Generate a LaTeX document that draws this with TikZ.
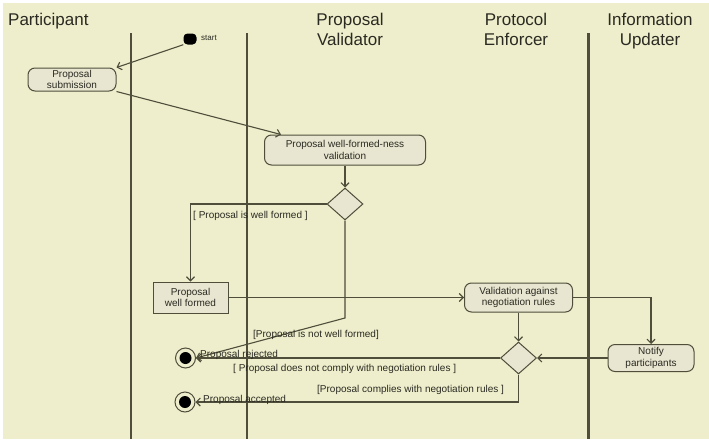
\documentclass[tikz,border=0pt]{standalone}
\usepackage{fontspec}
\setmainfont{Liberation Sans}
\usetikzlibrary{arrows.meta,shapes.geometric,calc}
\definecolor{bgc}{HTML}{EEEECC}
\definecolor{ln}{HTML}{4E4E3B}
\definecolor{nf}{HTML}{E8E6D0}
\definecolor{tx}{HTML}{2A2A22}
\begin{document}
\begin{tikzpicture}[x=1pt,y=-1pt,
  lane/.style={draw=ln,line width=1.2pt},
  hdr/.style={font=\fontsize{17}{20}\selectfont,text=tx,inner sep=0pt,anchor=base},
  small/.style={font=\fontsize{10}{11.5}\selectfont,text=tx,inner sep=0pt},
  act/.style={draw=ln,fill=nf,line width=1pt,rounded corners=7pt,align=center,
              inner sep=0pt,font=\fontsize{10}{11.5}\selectfont,text=tx},
  actbox/.style={draw=ln,fill=nf,line width=1pt,align=center,
              inner sep=0pt,font=\fontsize{10}{11.5}\selectfont,text=tx},
  dec/.style={diamond,draw=ln,fill=nf,line width=1pt,inner sep=0pt,
              minimum width=36pt,minimum height=32pt},
  endn/.style={circle,draw=ln,fill=bgc,line width=1pt,minimum size=20pt,inner sep=0pt},
  endi/.style={circle,fill=black,minimum size=12pt,inner sep=0pt},
  arr/.style={draw=ln,line width=1.1pt,-{Straight Barb[length=4pt,width=8pt]}}
]
\useasboundingbox (0,0) rectangle (709,439);
\fill[white] (0,0) rectangle (709,439);
\fill[bgc] (3,3) rectangle (709,439);

% swimlane separators
\draw[lane] (131,33) -- (131,439);
\draw[lane] (247,33) -- (247,439);
\draw[lane,line width=3pt] (588,33) -- (588,439);

% headers
\node[hdr,anchor=base west] (h1) at (8,25) {Participant};
\node[hdr] (h2a) at (350,25) {Proposal};
\node[hdr] (h2b) at (350,45) {Validator};
\node[hdr] (h3a) at (516,25) {Protocol};
\node[hdr] (h3b) at (516,45) {Enforcer};
\node[hdr] (h4a) at (650,25) {Information};
\node[hdr] (h4b) at (650,45) {Updater};

% nodes
\node[fill=black,rounded corners=4pt,minimum width=13pt,minimum height=11pt,inner sep=0pt] (start) at (190,39) {};
\node[small,anchor=west,font=\fontsize{8}{9}\selectfont] (startl) at (201,38) {start};
\node[act,minimum width=88pt,minimum height=23pt] (sub) at (72,79.5) {Proposal\\submission};
\node[act,minimum width=161pt,minimum height=30pt] (val) at (345,150) {Proposal well-formed-ness\\validation};
\node[dec] (d1) at (345,204) {};
\node[actbox,minimum width=75pt,minimum height=31pt] (wf) at (190.5,297.5) {Proposal\\well formed};
\node[act,minimum width=108pt,minimum height=29pt] (neg) at (518.5,297.5) {Validation against\\negotiation rules};
\node[dec] (d2) at (518.5,358) {};
\node[act,minimum width=86pt,minimum height=27pt] (notify) at (651,358) {Notify\\participants};
\node[endn] (rej) at (185.5,358) {};
\node[endi] (reji) at (rej) {};
\node[endn] (acc) at (185,402) {};
\node[endi] (acci) at (acc) {};
\coordinate (k1) at (345,318);

% connectors
\draw[arr] (start.south west) -- (sub.north east);
\draw[arr] (sub.south east) -- ($(val.north west)+(17,0)$);
\draw[arr] (val.south) -- (d1.north);
\draw[arr] (d1.west) -| (wf.north);
\draw[arr] (d1.south) -- (k1) -- (rej.east);
\draw[arr] (wf.east) -- (neg.west);
\draw[arr] (neg.south) -- (d2.north);
\draw[arr] (neg.east) -| (notify.north);
\draw[arr] (notify.west) -- (d2.east);
\draw[arr] (d2.west) -- (rej.east);
\draw[arr] (d2.south) |- (acc.east);

% labels
\node[small,anchor=west] (l1) at (193,216) {[ Proposal is well formed ]};
\node[small,anchor=west] (l2) at (253,335) {[Proposal is not well formed]};
\node[small,anchor=west] (l3) at (233,369) {[ Proposal does not comply with negotiation rules ]};
\node[small,anchor=west] (l4) at (317,390) {[Proposal complies with negotiation rules ]};
\node[small,anchor=base west] (rejl) at (200,357) {Proposal rejected};
\node[small,anchor=base west] (accl) at (203,402) {Proposal accepted};
\end{tikzpicture}
\end{document}
